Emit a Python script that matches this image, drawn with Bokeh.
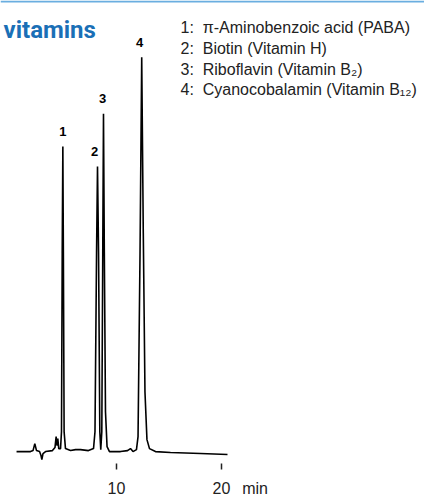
from bokeh.plotting import figure
from bokeh.models import Range1d, FixedTicker, Label, Span, ColumnDataSource, LinearAxis
from bokeh.core.properties import value
from bokeh.embed import file_html
from bokeh.resources import INLINE

# ---- data (time in min, detector signal in arbitrary units)
time_min = [0.48, 1.81, 2.05, 2.22, 2.38, 2.67, 2.81, 2.89, 3.00, 3.24, 3.90, 4.14, 4.25, 4.34,
            4.41, 4.50, 4.67, 4.76, 4.83, 4.89, 4.94, 5.01, 5.14, 5.62, 6.10, 6.57, 7.33, 7.81,
            7.95, 8.10, 8.19, 8.29, 8.41, 8.50, 8.60, 8.69, 8.76, 8.84, 8.95, 9.10, 9.33, 10.38,
            11.05, 11.33, 11.57, 11.90, 12.05, 12.24, 12.40, 12.55, 12.71, 12.90, 13.14, 13.71,
            15.14, 18.00, 20.57]
signal = [0, 0, 1, 8, 1, 0, -4, -8, -2, 0, 1, 4, 15, 6,
          13, 3, 3, 20, 200, 307, 200, 20, 3, 1, 2, 2, 1, 3,
          20, 200, 287, 200, 20, 2, 20, 200, 340, 200, 40, 5, 0, 0,
          1, 3, 0, 2, 15, 200, 397, 220, 60, 12, 3, 0,
          -1, -2, -3]

peak_ids = ["1", "2", "3", "4"]
peak_time = [4.89, 8.19, 8.76, 12.40]
peak_height = [307, 287, 340, 397]

tick_values = [10, 20]
axis_unit = "min"
title_text = "vitamins"
legend_lines = [
    "1:\u00a0\u00a0\u03c0-Aminobenzoic acid (PABA)",
    "2:\u00a0\u00a0Biotin (Vitamin H)",
    "3:\u00a0\u00a0Riboflavin (Vitamin B\u2082)",
    "4:\u00a0\u00a0Cyanocobalamin (Vitamin B\u2081\u2082)",
]

# ---- styling / layout
label_dx = [0, -3, -1, -2]
label_dy = [-15, -15, -15, -15]
unit_label_pos = 23.2   # where the unit text sits along the time axis

p = figure(width=424, height=499, output_backend="svg", toolbar_location=None,
           x_range=Range1d(-1.048, 39.33), y_range=Range1d(-12, 454),
           x_axis_location=None, y_axis_location=None,
           min_border_left=0, min_border_right=0, min_border_top=0, min_border_bottom=33,
           background_fill_color="white", border_fill_color="white", outline_line_color=None)
p.grid.visible = False

# labelled positions = tick values + unit text; visible tick marks drawn as minor ticks at the tick values
xaxis = LinearAxis(ticker=FixedTicker(ticks=tick_values + [unit_label_pos], minor_ticks=tick_values),
                   major_label_overrides={unit_label_pos: axis_unit},
                   axis_line_color=None,
                   major_tick_line_color=None, major_tick_in=0, major_tick_out=6,
                   minor_tick_line_color="#222222", minor_tick_line_width=1.5,
                   minor_tick_in=0, minor_tick_out=6,
                   major_label_text_font="Liberation Sans", major_label_text_font_size="16px",
                   major_label_text_color="#222222", major_label_standoff=10)
p.add_layout(xaxis, "below")

p.line(time_min, signal, line_color="black", line_width=1.6)

src = ColumnDataSource(dict(x=peak_time, y=peak_height, t=peak_ids, dx=label_dx, dy=label_dy))
p.text(x="x", y="y", text="t", x_offset="dx", y_offset="dy", source=src,
       text_font=value("Liberation Sans"), text_font_style="bold", text_font_size="13px",
       text_color="black", text_align="center", text_baseline="alphabetic")

p.add_layout(Span(location=453, dimension="width", line_color="#6aaee0", line_width=2))

p.add_layout(Label(x=3, y=434, x_units="screen", y_units="screen", text=title_text,
                   text_font="Roboto", text_font_style="bold", text_font_size="24px",
                   text_color="#1a6fb6", text_baseline="alphabetic"))

for i, line in enumerate(legend_lines):
    p.add_layout(Label(x=180, y=436 - i * 20.8, x_units="screen", y_units="screen", text=line,
                       text_font="Liberation Sans", text_font_size="16px",
                       text_color="#222222", text_baseline="alphabetic"))

open("out.html", "w").write(file_html(p, INLINE))
